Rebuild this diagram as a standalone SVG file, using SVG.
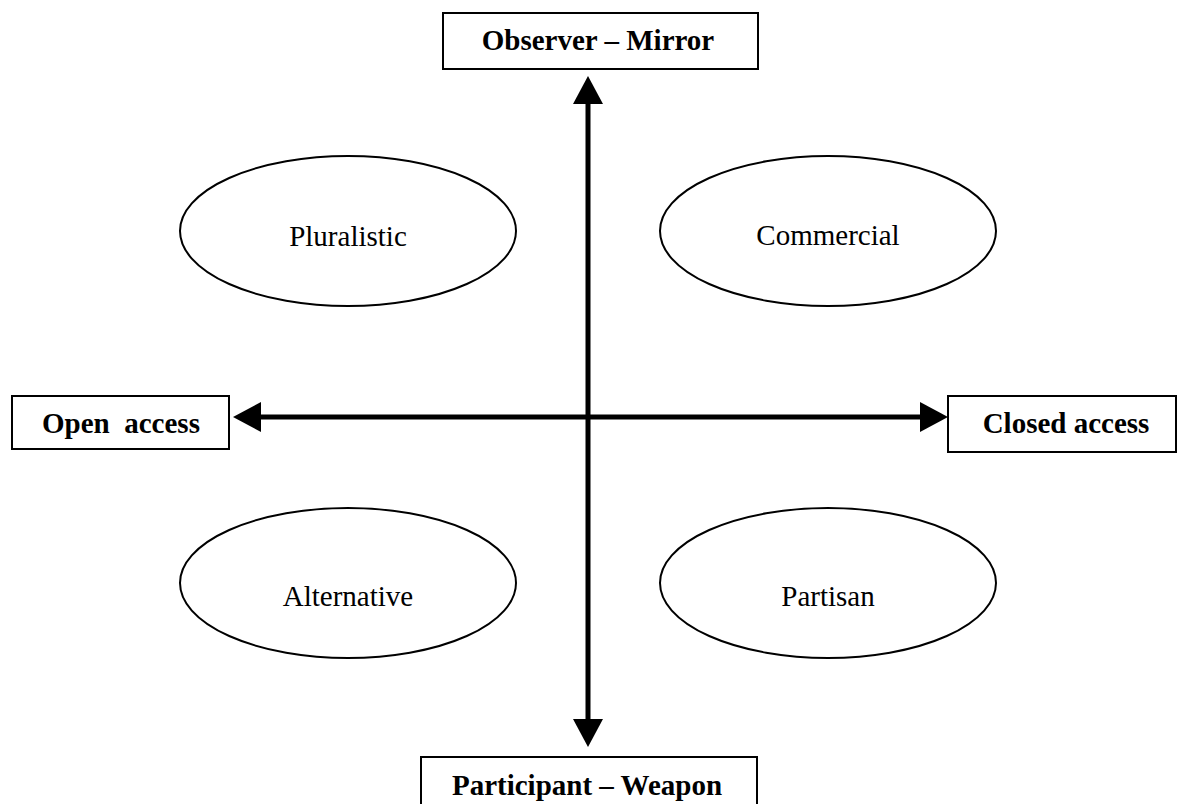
<svg xmlns="http://www.w3.org/2000/svg" width="1178" height="804" viewBox="0 0 1178 804">
<style>
.box{fill:#fff;stroke:#000;stroke-width:2}
.ell{fill:#fff;stroke:#000;stroke-width:2}
.bt{font-family:"Liberation Serif","Times New Roman",serif;font-weight:bold;font-size:29px;text-anchor:middle;white-space:pre}
.et{font-family:"Liberation Serif","Times New Roman",serif;font-size:29px;text-anchor:middle}
.axis{stroke:#000;stroke-width:5;fill:none;marker-start:url(#ah);marker-end:url(#ah)}
</style>
<defs>
<marker id="ah" markerUnits="userSpaceOnUse" markerWidth="28" markerHeight="30" refX="0" refY="15" orient="auto-start-reverse" viewBox="0 0 28 30">
<path d="M0,0 L28,15 L0,30 z" fill="#000"/>
</marker>
</defs>
<rect width="1178" height="804" fill="#fff"/>
<g id="connectors">
<line class="axis" x1="588" y1="104" x2="588" y2="719"/>
<line class="axis" x1="261" y1="417" x2="920" y2="417"/>
</g>
<g id="observer-mirror">
<rect class="box" x="443" y="13" width="315" height="56"/>
<text class="bt" x="598" y="50">Observer – Mirror</text>
</g>
<g id="open-access">
<rect class="box" x="12" y="396" width="217" height="53"/>
<text class="bt" x="121" y="433">Open  access</text>
</g>
<g id="closed-access">
<rect class="box" x="948" y="396" width="228" height="56"/>
<text class="bt" x="1066" y="433">Closed access</text>
</g>
<g id="participant-weapon">
<rect class="box" x="421" y="757" width="336" height="60"/>
<text class="bt" x="587" y="795">Participant – Weapon</text>
</g>
<g id="pluralistic">
<ellipse class="ell" cx="348" cy="231" rx="168" ry="75"/>
<text class="et" x="348" y="246">Pluralistic</text>
</g>
<g id="commercial">
<ellipse class="ell" cx="828" cy="231" rx="168" ry="75"/>
<text class="et" x="828" y="245">Commercial</text>
</g>
<g id="alternative">
<ellipse class="ell" cx="348" cy="583" rx="168" ry="75"/>
<text class="et" x="348" y="606">Alternative</text>
</g>
<g id="partisan">
<ellipse class="ell" cx="828" cy="583" rx="168" ry="75"/>
<text class="et" x="828" y="606">Partisan</text>
</g>
</svg>
